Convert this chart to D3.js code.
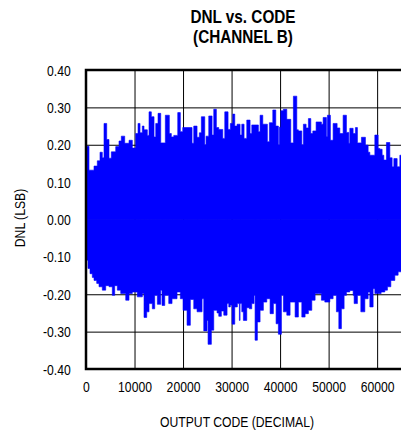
<!DOCTYPE html>
<html><head><meta charset="utf-8">
<script src="https://cdn.jsdelivr.net/npm/d3@7"></script>
<style>body{margin:0;background:#fff}svg{display:block}text{font-family:"Liberation Sans",Arial,sans-serif;fill:#000}</style>
</head><body><svg id="c" width="401" height="433"></svg>
<script>
// Upper envelope of DNL (step segments, start code -> value)
const upperCode = [0,619,1650,2330,2887,3361,3711,4268,4742,5217,6124,6804,7278,7979,8866,9546,10247,10722,11134,11608,11959,12639,12990,13464,14021,14371,14845,15402,16351,17175,17588,18083,18907,19443,19938,21856,22206,22887,23361,23773,24474,24742,25299,25980,26330,26866,27361,28186,28598,29279,29753,30248,30660,31134,31753,32103,32577,33134,33815,34165,35526,35876,36433,37381,37794,38495,39113,39649,39855,40144,40680,41381,42206,42742,43443,43773,44474,44804,45361,45835,46330,46742,47423,48515,48866,49546,49753,50371,50928,51753,52309,52990,53670,54165,54371,55052,55526,55938,56763,57588,58144,58495,59526,60206,60557,61031,61381,61918,62619,63093,63443,64124,64680,65535];
const upperDNL = [0.196,0.132,0.143,0.157,0.18,0.165,0.257,0.214,0.164,0.181,0.195,0.21,0.223,0.204,0.212,0.191,0.23,0.257,0.232,0.25,0.24,0.225,0.288,0.275,0.221,0.257,0.284,0.205,0.279,0.23,0.221,0.225,0.286,0.235,0.246,0.204,0.25,0.22,0.232,0.275,0.2,0.223,0.277,0.226,0.295,0.246,0.241,0.217,0.288,0.241,0.257,0.282,0.25,0.255,0.226,0.255,0.217,0.266,0.23,0.253,0.235,0.279,0.255,0.208,0.259,0.293,0.25,0.2,0.247,0.291,0.295,0.268,0.205,0.33,0.24,0.237,0.2,0.255,0.245,0.27,0.23,0.237,0.261,0.255,0.273,0.222,0.279,0.212,0.257,0.245,0.23,0.279,0.233,0.204,0.244,0.23,0.246,0.205,0.22,0.199,0.18,0.172,0.226,0.19,0.188,0.172,0.159,0.206,0.165,0.141,0.163,0.141,0.172,0.172];
// Lower envelope of DNL
const lowerCode = [0,412,825,1299,1650,2206,2680,3361,4062,4742,5423,5918,6454,7155,8186,8866,9546,10577,11608,11959,12515,12990,13670,14165,14701,15402,15670,16227,17052,17732,18763,19443,20000,20825,21505,22206,22887,23918,24268,24948,25155,25836,26330,27010,27361,27897,28392,29072,29423,29753,30103,30660,31196,31608,31753,32103,32433,33134,33670,34165,34639,34845,35320,35876,36557,37258,37938,38619,39175,39649,40268,40680,41381,42062,43093,43773,44474,45155,45835,46536,47217,47897,48515,49217,50247,50928,51608,52103,52639,53196,53670,54371,55052,55258,55938,56639,57464,58144,58495,59175,59526,60825,61588,62124,62825,63649,64330,65535];
const lowerDNL = [-0.109,-0.131,-0.145,-0.155,-0.163,-0.171,-0.18,-0.189,-0.177,-0.18,-0.203,-0.177,-0.189,-0.198,-0.216,-0.198,-0.194,-0.207,-0.198,-0.262,-0.247,-0.225,-0.239,-0.203,-0.227,-0.189,-0.23,-0.203,-0.225,-0.212,-0.194,-0.212,-0.243,-0.283,-0.214,-0.239,-0.247,-0.212,-0.298,-0.27,-0.334,-0.296,-0.243,-0.25,-0.259,-0.245,-0.256,-0.225,-0.234,-0.229,-0.28,-0.234,-0.225,-0.27,-0.225,-0.247,-0.27,-0.236,-0.239,-0.225,-0.203,-0.323,-0.274,-0.243,-0.221,-0.212,-0.252,-0.225,-0.279,-0.307,-0.203,-0.247,-0.256,-0.221,-0.261,-0.221,-0.261,-0.252,-0.243,-0.216,-0.198,-0.198,-0.216,-0.221,-0.212,-0.203,-0.247,-0.292,-0.239,-0.203,-0.194,-0.19,-0.203,-0.225,-0.203,-0.247,-0.212,-0.194,-0.234,-0.185,-0.198,-0.194,-0.189,-0.18,-0.163,-0.149,-0.14,-0.14];
const xTicks = [0,10000,20000,30000,40000,50000,60000];
const yTicks = [0.4,0.3,0.2,0.1,0,-0.1,-0.2,-0.3,-0.4];
const titleLines = ["DNL vs. CODE","(CHANNEL B)"];
const xTitle = "OUTPUT CODE (DECIMAL)";
const yTitle = "DNL (LSB)";

const svg = d3.select("#c");
const L = 86, R = 404, T = 70, B = 369;
const x = d3.scaleLinear().domain([0,65536]).range([L,R]);
const y = d3.scaleLinear().domain([-0.4,0.4]).range([B,T]);
const SX = 0.87;

// grid
const gx = svg.append("g").attr("transform",`translate(0,${B})`)
  .call(d3.axisBottom(x).tickValues(xTicks).tickSize(-(B-T)).tickSizeOuter(0).tickFormat(d=>String(d)));
gx.select(".domain").remove();
gx.selectAll("line").attr("stroke","#000").attr("stroke-width",1).filter(d=>d===0).remove();
gx.selectAll("text").attr("y",23.5).attr("dy",null).attr("font-size",14).attr("transform",`scale(${SX},1)`);

const gy = svg.append("g").attr("transform",`translate(${L},0)`)
  .call(d3.axisLeft(y).tickValues(yTicks).tickSize(-(R-L)).tickSizeOuter(0).tickFormat(d=>d.toFixed(2)));
gy.select(".domain").remove();
gy.selectAll("line").attr("stroke","#000").attr("stroke-width",1).filter(d=>Math.abs(d)>0.39).remove();
gy.selectAll("text").attr("x",-15.3/SX).attr("dy","0.36em").attr("font-size",14).attr("transform",`scale(${SX},1)`);

// data band
const up = upperCode.map((c,i)=>({c,v:upperDNL[i]}));
const lo = lowerCode.map((c,i)=>({c,v:lowerDNL[i]}));
const area = d3.area().curve(d3.curveStepAfter).x(d=>x(d.c)).y0(y(0)).y1(d=>y(d.v));
svg.append("path").datum(up).attr("d",area).attr("fill","#0000ff").attr("stroke","#0000ff").attr("stroke-width",0.6);
svg.append("path").datum(lo).attr("d",area).attr("fill","#0000ff").attr("stroke","#0000ff").attr("stroke-width",0.6);

// frame
svg.append("rect").attr("x",L).attr("y",T).attr("width",R-L).attr("height",B-T)
  .attr("fill","none").attr("stroke","#000").attr("stroke-width",2.5);

// titles
titleLines.forEach((t,i)=>{
  svg.append("text").attr("transform",`translate(243,${22.5+i*20.5}) scale(0.85,1)`)
    .attr("text-anchor","middle").attr("font-weight","bold").attr("font-size",18).text(t);
});
svg.append("text").attr("transform",`translate(237,426.5) scale(${SX},1)`)
  .attr("text-anchor","middle").attr("font-size",14).text(xTitle);
svg.append("text").attr("transform",`translate(25,218) rotate(-90) scale(${SX},1)`)
  .attr("text-anchor","middle").attr("font-size",14).text(yTitle);
</script></body></html>
